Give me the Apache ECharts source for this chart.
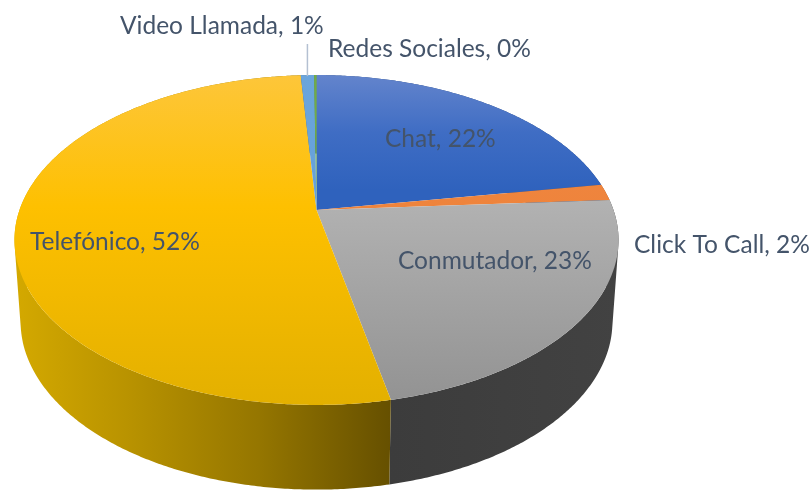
<!DOCTYPE html>
<html>
<head>
<meta charset="utf-8">
<style>
html,body{margin:0;padding:0;background:#fff}
#chart{width:812px;height:492px;filter:blur(0.45px)}
</style>
<script src="https://cdn.jsdelivr.net/npm/echarts@6/dist/echarts.min.js"></script>
</head>
<body>
<div id="chart"></div>
<script>
var categories = ['Chat', 'Click To Call', 'Conmutador', 'Telefónico', 'Video Llamada', 'Redes Sociales'];
var shares = [22.4, 1.6, 22.7, 52.3, 0.85, 0.15];

var topStops = [
  [[0, '#6384cc'], [0.5, '#3f6dc4'], [1, '#2f62bd']],
  [[0, '#f08a45'], [1, '#ec7a2e']],
  [[0, '#b2b2b2'], [1, '#929292']],
  [[0, '#fdc63a'], [0.4, '#fec000'], [1, '#e3b000']],
  [[0, '#6ba5dc'], [1, '#5b9bd5']],
  [[0, '#70ad47'], [1, '#70ad47']]
];
var wallStops = [
  [[0, '#2a4a80'], [1, '#2a4a80']],
  [[0, '#9a4f1c'], [1, '#9a4f1c']],
  [[0, '#3c3c3c'], [1, '#424242']],
  [[0, '#d4a900'], [0.3, '#b99300'], [0.65, '#957600'], [1, '#665000']],
  [[0, '#3c6a94'], [1, '#3c6a94']],
  [[0, '#4a7530'], [1, '#4a7530']]
];
var labelAt = [[385, 139], [634, 245], [398, 261], [30, 242], [120, 26], [328, 49]];
var labelFont = '24.5px Lato, sans-serif';
var labelColor = '#44546a';

var topDisc = {cx: 316.5, cy: 210, a: 297, q: 159.5};
var baseDisc = {cx: 316.5, cy: 291, a: 291, q: 162.5};
var tilt = 0.1818;

function project(d, deg, r) {
  var t = deg * Math.PI / 180, u = Math.sin(t) * r, v = Math.cos(t) * r, w = 1 + tilt * v;
  return [d.cx + d.a * u / w, d.cy - d.q * v / w];
}
function arc(d, from, to) {
  var pts = [], n = Math.max(2, Math.ceil(Math.abs(to - from) * 2));
  for (var i = 0; i <= n; i++) pts.push(project(d, from + (to - from) * i / n, 1));
  return pts;
}
function gradient(x0, y0, x1, y1, stops) {
  return new echarts.graphic.LinearGradient(x0, y0, x1, y1, stops.map(function (s) {
    return {offset: s[0], color: s[1]};
  }), true);
}
function signedArea(p) {
  var s = 0;
  for (var i = 0; i < p.length; i++) {
    var q = p[(i + 1) % p.length];
    s += p[i][0] * q[1] - q[0] * p[i][1];
  }
  return s;
}
function wallPath(a, b) {
  var d = '';
  for (var i = 0; i + 1 < a.length; i++) {
    var quad = [a[i], a[i + 1], b[i + 1], b[i]];
    if (signedArea(quad) < 0) quad.reverse();
    d += 'M' + quad[0] + 'L' + quad[1] + 'L' + quad[2] + 'L' + quad[3] + 'Z';
  }
  return d;
}
var total = shares.reduce(function (s, x) { return s + x; }, 0);

function renderSlice(params, api) {
  var i = params.dataIndex, before = 0;
  for (var k = 0; k < i; k++) before += shares[k];
  var from = before / total * 360, to = (before + api.value(1)) / total * 360;
  var rimTop = arc(topDisc, from, to), rimBase = arc(baseDisc, from, to);
  var topFill = gradient(0, 75, 0, 405, topStops[i]);
  if (i === 0) topFill = gradient(0, 75, 0, 190, topStops[i]);
  if (i === 2) topFill = gradient(0, 200, 0, 405, topStops[i]);
  var children = [{
    type: 'path', z2: 1,
    shape: {pathData: wallPath(rimTop, rimBase), layout: 'none'},
    style: {fill: i === 3 ? gradient(14, 0, 390, 0, wallStops[i]) : gradient(390, 0, 620, 0, wallStops[i])}
  }, {
    type: 'polygon', z2: 2,
    shape: {points: [project(topDisc, 0, 0)].concat(rimTop)},
    style: {fill: topFill}
  }];
  if (i === 4) {
    var rim = project(topDisc, (from + to) / 2, 1);
    children.push({
      type: 'line', z2: 3,
      shape: {x1: rim[0], y1: rim[1] + 1, x2: rim[0], y2: 44},
      style: {stroke: '#b4c0d2', lineWidth: 1.5}
    });
  }
  children.push({
    type: 'text', z2: 4,
    style: {
      text: categories[i] + ', ' + Math.round(api.value(1)) + '%',
      x: labelAt[i][0], y: labelAt[i][1],
      font: labelFont, fill: labelColor, textAlign: 'left', textVerticalAlign: 'middle'
    }
  });
  return {type: 'group', children: children};
}

var chart = echarts.init(document.getElementById('chart'), null, {renderer: 'canvas'});
chart.setOption({
  animation: false,
  backgroundColor: '#fff',
  series: [{
    type: 'custom',
    coordinateSystem: 'none',
    renderItem: renderSlice,
    data: categories.map(function (c, i) { return [i, shares[i]]; })
  }]
});
</script>
</body>
</html>
